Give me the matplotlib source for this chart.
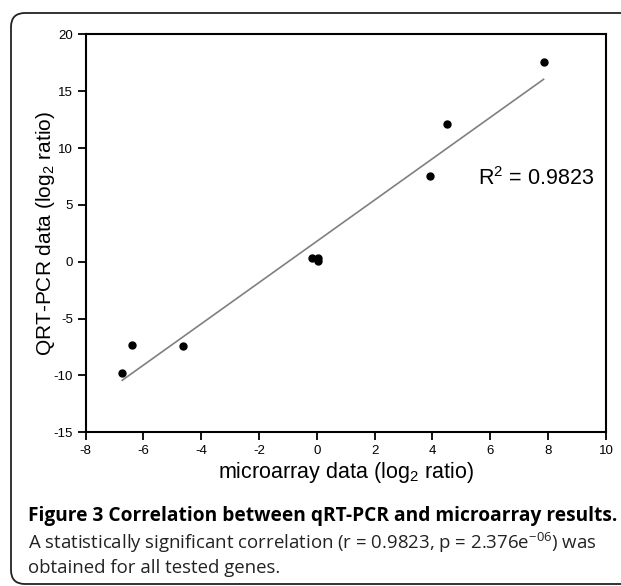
import numpy as np
import matplotlib
matplotlib.use("Agg")
from matplotlib import pyplot as plt
from matplotlib.patches import FancyBboxPatch

# values
microarray = [-6.73, -6.39, -4.63, -0.15, 0.05, 0.05, 3.92, 4.50, 7.84]
qrt_pcr = [-9.77, -7.33, -7.44, 0.35, 0.30, 0.05, 7.50, 12.15, 17.59]
r_squared = 0.9823
x_ticks = [-8, -6, -4, -2, 0, 2, 4, 6, 8, 10]
y_ticks = [-15, -10, -5, 0, 5, 10, 15, 20]

plt.rcParams['font.family'] = ['Liberation Sans', 'DejaVu Sans']
plt.rcParams['axes.unicode_minus'] = False
plt.rcParams['mathtext.fontset'] = 'custom'
plt.rcParams['mathtext.rm'] = 'Liberation Sans'
plt.rcParams['mathtext.it'] = 'Liberation Sans'
plt.rcParams['mathtext.sf'] = 'Open Sans'

W, H = 621, 586
fig = plt.figure(figsize=(W / 100, H / 100), dpi=100)

# rounded frame around the figure panel
bg = fig.add_axes([0, 0, 1, 1], zorder=-1)
bg.set_xlim(0, W)
bg.set_ylim(H, 0)
bg.axis('off')
frame = FancyBboxPatch((11, 13), 660, 571,
                       boxstyle="round,pad=0,rounding_size=14",
                       fill=False, edgecolor='#222222', linewidth=1.3)
bg.add_patch(frame)

ax = fig.add_axes([85.5 / W, 1 - 432.3 / H, (606 - 85.5) / W, (432.3 - 34.3) / H])

slope, intercept = np.polyfit(microarray, qrt_pcr, 1)
x_line = np.array([min(microarray), max(microarray)])
ax.plot(x_line, slope * x_line + intercept, color='#808080', linewidth=1.2)
ax.plot(microarray, qrt_pcr, 'o', color='black', markersize=5)

ax.set_xlim(-8, 10)
ax.set_ylim(-15, 20)
ax.set_xticks(x_ticks)
ax.set_yticks(y_ticks)
ax.tick_params(axis='both', direction='out', length=6, width=1.3,
               labelsize=9.5, pad=3, colors='black')
for sp in ax.spines.values():
    sp.set_linewidth(1.5)

ax.set_xlabel("microarray data (log$_2$ ratio)", fontsize=15.5, labelpad=2)
ax.set_ylabel("QRT-PCR data (log$_2$ ratio)", fontsize=15)
ax.yaxis.set_label_coords(-0.054, 0.5)

ax.text(5.58, 7.33, "R$^2$ = %.4f" % r_squared, fontsize=15.5, va='center', ha='left')

# caption
cap_font = dict(family='Open Sans', va='center', ha='left')
fig.text(28 / W, 1 - 515.7 / H, "Figure 3 Correlation between qRT-PCR and microarray results.",
         fontsize=13.8, fontweight='bold', **cap_font)
fig.text(28 / W, 1 - 543 / H,
         r"A statistically significant correlation (r = 0.9823, p = 2.376e$^{\mathsf{-06}}$) was",
         fontsize=13.4, color='#222222', **cap_font)
fig.text(28 / W, 1 - 568 / H, "obtained for all tested genes.",
         fontsize=13.4, color='#222222', **cap_font)

fig.savefig("out.png", dpi=100)
plt.close(fig)
